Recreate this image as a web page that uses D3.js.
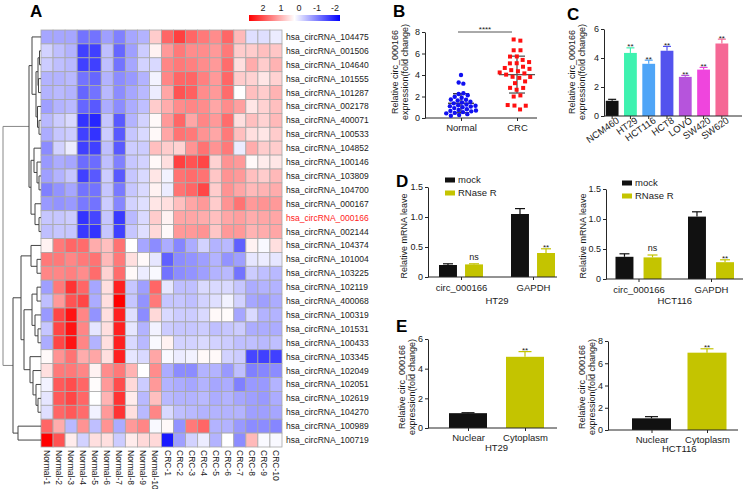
<!DOCTYPE html>
<html>
<head>
<meta charset="utf-8">
<script src="https://cdn.jsdelivr.net/npm/d3@7"></script>
<style>
  body { margin: 0; background: #fff; }
  svg text { font-family: Arial, "Liberation Sans", sans-serif; fill: #1a1a1a; }
</style>
</head>
<body>
<svg id="fig" width="753" height="489"></svg>
<script>
// ---------------- data ----------------
const rowNames = ["hsa_circRNA_104475","hsa_circRNA_001506","hsa_circRNA_104640","hsa_circRNA_101555",
  "hsa_circRNA_101287","hsa_circRNA_002178","hsa_circRNA_400071","hsa_circRNA_100533","hsa_circRNA_104852",
  "hsa_circRNA_100146","hsa_circRNA_103809","hsa_circRNA_104700","hsa_circRNA_000167","hsa_circRNA_000166",
  "hsa_circRNA_002144","hsa_circRNA_104374","hsa_circRNA_101004","hsa_circRNA_103225","hsa_circRNA_102119",
  "hsa_circRNA_400068","hsa_circRNA_100319","hsa_circRNA_101531","hsa_circRNA_100433","hsa_circRNA_103345",
  "hsa_circRNA_102049","hsa_circRNA_102051","hsa_circRNA_102619","hsa_circRNA_104270","hsa_circRNA_100989",
  "hsa_circRNA_100719"];
const highlightRow = "hsa_circRNA_000166";
const colNames = ["Normal-1","Normal-2","Normal-3","Normal-4","Normal-5","Normal-6","Normal-7","Normal-8",
  "Normal-9","Normal-10","CRC-1","CRC-2","CRC-3","CRC-4","CRC-5","CRC-6","CRC-7","CRC-8","CRC-9","CRC-10"];
const heatValues = [
  [-0.7,-0.7,-0.7,-1.1,-1.1,-0.75,-1.0,-0.7,-0.6,0.4, 1.2,1.5,1.2,1.05,0.9,1.2,0.55,-0.25,-0.25,-0.15],
  [-0.35,-0.5,-0.6,-1.5,-1.5,-0.5,-1.2,-0.75,-0.4,0.1, 0.8,1.05,0.9,0.9,0.8,1.05,0.4,0.4,0.5,0.45],
  [-0.4,-0.5,-0.55,-1.5,-1.5,-0.5,-1.1,-0.7,-0.35,-0.3, 0.95,1.05,1.0,0.9,0.8,1.15,0.25,0.65,0.4,0.6],
  [-0.6,-0.6,-0.55,-1.1,-1.2,-0.6,-0.9,-0.8,-0.6,-0.1, 0.95,1.2,1.2,1.0,0.8,1.2,0.4,0.35,0.2,0.35],
  [-0.6,-0.55,-0.6,-1.2,-1.1,-0.55,-0.9,-0.7,-0.55,-0.15, 0.7,1.35,1.25,0.9,0.8,1.15,0.0,0.5,0.4,0.6],
  [-0.75,-0.6,-0.55,-1.2,-1.3,-0.65,-0.9,-0.65,-0.5,0.4, 0.65,0.9,0.95,0.9,0.7,0.9,0.75,0.2,0.35,0.5],
  [-0.55,-0.4,-0.3,-1.6,-1.7,-0.45,-1.3,-0.6,-0.35,0.05, 0.8,1.2,0.7,0.95,0.8,1.15,0.25,0.5,0.35,0.55],
  [-0.65,-0.45,-0.4,-1.5,-1.6,-0.4,-1.3,-0.45,-0.3,0.05, 0.7,1.1,1.05,0.85,0.7,1.05,0.5,0.25,0.2,0.4],
  [-0.9,-0.35,-0.15,-1.5,-1.5,-0.5,-1.3,-0.4,-0.4,0.5, 0.4,0.35,0.85,1.1,0.85,1.05,-0.15,0.65,0.4,0.4],
  [-0.8,-0.65,-0.7,-1.15,-1.15,-0.5,-1.0,-0.45,-0.35,0.05, 0.25,1.5,1.35,1.45,0.35,0.85,0.8,0.05,0.15,0.2],
  [-0.75,-0.6,-0.45,-1.5,-1.3,-0.4,-1.3,-0.45,-0.3,0.2, -0.1,1.1,1.15,1.1,0.45,0.85,0.8,0.5,0.4,0.55],
  [-1.0,-0.85,-0.7,-1.1,-1.1,-0.45,-1.05,-0.45,-0.3,0.1, -0.15,1.1,1.2,1.45,0.4,0.85,0.7,0.55,0.6,0.65],
  [-0.8,-0.85,-0.8,-1.05,-1.1,-0.4,-0.95,-0.35,-0.25,0.2, 0.25,0.5,0.7,0.8,0.4,0.85,1.1,0.8,0.85,0.8],
  [-0.45,-0.45,-0.4,-1.6,-1.45,-0.45,-1.55,-0.55,-0.3,0.4, 0.1,0.7,0.7,0.65,0.5,0.7,0.75,0.65,0.7,0.7],
  [-0.5,-0.45,-0.45,-1.55,-1.6,-0.45,-1.5,-0.45,-0.25,0.3, 0.05,0.8,0.8,0.85,0.45,0.8,0.8,0.6,0.65,0.7],
  [0.1,1.05,1.2,1.15,0.65,0.5,1.1,0.0,-0.7,-0.9, -0.65,-0.95,-0.65,-0.35,-0.6,-0.55,-1.25,0.1,-0.05,0.25],
  [1.05,1.05,0.95,1.05,1.1,0.55,1.05,0.25,0.05,-0.2, -1.25,-0.9,-0.85,-0.75,-0.6,-0.85,-0.75,-0.2,-0.15,-0.2],
  [0.95,0.95,1.0,0.9,1.15,0.35,1.15,0.05,-0.15,-0.05, -1.1,-0.9,-0.85,-0.75,-0.6,-0.55,-1.1,-0.4,-0.5,-0.55],
  [-0.75,1.05,1.6,1.2,-0.7,0.25,1.75,-0.45,-0.75,1.2, -0.2,-0.5,-0.5,-0.3,-0.3,-0.3,-0.45,-0.65,-0.6,-0.6],
  [-0.5,0.8,1.35,1.45,-0.65,0.25,2.0,-0.45,-0.85,1.05, -0.45,-0.45,-0.5,-0.35,-0.25,-0.1,-0.35,-0.7,-0.75,-0.65],
  [-0.8,1.45,1.85,0.95,-0.85,0.25,1.75,-0.25,-0.9,0.3, -0.3,-0.4,-0.4,-0.3,0.05,0.03,-0.7,-0.3,-0.6,-0.6],
  [-0.45,1.45,1.85,0.95,-0.2,0.25,1.75,-0.2,-0.6,-0.1, -0.4,-0.45,-0.45,-0.4,-0.5,-0.45,-0.4,-0.65,-0.65,-0.65],
  [-0.65,1.45,1.85,0.95,-0.6,0.25,1.75,-0.3,-0.55,-0.05, 0.1,-0.35,-0.35,-0.3,-0.35,-0.4,-0.5,-0.5,-0.55,-0.5],
  [0.05,0.85,1.1,0.65,0.7,0.25,1.75,-0.2,-0.3,0.7, -0.05,-0.15,-0.1,0.05,0.05,-0.35,-0.4,-1.45,-1.5,-1.5],
  [0.25,1.05,1.05,0.95,0.1,0.9,1.05,0.6,0.0,0.9, -0.65,-0.9,-0.9,-0.6,-0.6,-0.8,-0.5,-1.0,-0.95,-0.9],
  [-0.1,1.3,1.4,1.2,0.02,0.8,1.4,0.3,-0.4,0.8, -0.6,-0.65,-0.7,-0.6,-0.7,-0.65,-1.0,-0.8,-0.8,-0.6],
  [-0.2,1.3,1.45,1.2,0.0,0.6,1.6,0.15,-0.55,0.5, -0.55,-0.6,-0.6,-0.55,-0.65,-0.6,-0.7,-0.75,-0.8,-0.65],
  [-0.25,1.2,1.3,1.15,-0.1,0.8,1.6,0.25,-0.55,0.95, -0.3,-0.5,-0.55,-0.6,-0.6,-0.6,-0.6,-0.75,-0.75,-0.7],
  [1.2,0.65,-0.55,0.85,-0.5,0.85,-0.65,0.8,0.95,-0.05, 0.05,-0.85,1.05,1.2,-0.6,-0.6,-0.8,-0.9,-0.9,-0.95],
  [2.0,1.35,0.15,-0.35,0.25,0.25,-0.4,0.15,0.3,0.3, -1.8,-0.75,-0.35,-0.15,-0.6,0.0,-0.9,0.55,-0.05,-0.05]
];
const legendTicks = [2, 1, 0, -1, -2];

// row clustering: r = leaf row index, h = merge height
const rowTree = {h:38, c:[
  {h:12, c:[
    {h:9, c:[{r:0}, {h:5, c:[
      {h:3, c:[{h:1.5, c:[{r:1},{r:2}]}, {h:2.5, c:[{r:3},{r:4}]}]},
      {h:3.5, c:[{r:5}, {h:2, c:[{r:6},{r:7}]}]}]}]},
    {h:10, c:[
      {h:7, c:[{r:8}, {h:4, c:[{r:9}, {h:2, c:[{r:10},{r:11}]}]}]},
      {h:6, c:[{r:12}, {h:2, c:[{r:13},{r:14}]}]}]}
  ]},
  {h:28, c:[
    {h:20, c:[
      {h:10, c:[{r:15}, {h:4, c:[{r:16},{r:17}]}]},
      {h:17, c:[
        {h:9, c:[{h:4, c:[{r:18},{r:19}]}, {h:6, c:[{r:20}, {h:3, c:[{r:21},{r:22}]}]}]},
        {h:11, c:[{r:23}, {h:8, c:[{r:24}, {h:5, c:[{r:25}, {h:3, c:[{r:26},{r:27}]}]}]}]}
      ]}
    ]},
    {h:23, c:[{r:28},{r:29}]}
  ]}
]};

// B
const groupsB = ["Normal", "CRC"];
const normalVals = [4.0,3.2,3.3,2.2,2.1,2.0,2.1,2.0,1.7,1.6,1.5,1.6,1.4,1.3,1.2,1.2,1.1,1.0,1.0,0.9,0.9,0.8,0.8,0.7,0.7,0.7,0.6,0.6,0.5,0.5,0.4,0.3];
const crcVals = [7.3,7.2,6.3,6.3,5.7,5.6,5.2,5.2,5.1,5.2,4.7,4.6,4.3,4.2,4.3,4.4,4.3,4.2,3.9,3.8,3.8,3.5,3.4,2.8,2.8,2.7,2.1,2.0,1.1,0.9,1.1,1.2];

// C
const cellLines = ["NCM460","HT29","HCT116","HCT8","LOVO","SW420","SW620"];
const cellVals = [1.05, 4.35, 3.6, 4.5, 2.7, 3.2, 5.0];
const cellErr = [0.1, 0.35, 0.25, 0.3, 0.1, 0.15, 0.3];
const cellSig = ["", "**", "**", "**", "**", "**", "**"];
const cellColors = ["#111111","#3ef2b0","#4fa5f7","#5353ee","#b654dc","#ef45dd","#f56895"];

// D
const rnaTargets = ["circ_000166", "GAPDH"];
const rnaSeries = ["mock", "RNase R"];
const rnaHT29 = [[0.20, 0.21], [1.05, 0.40]];
const rnaHT29Err = [[0.02, 0.01], [0.09, 0.07]];
const rnaHCT116 = [[0.37, 0.36], [1.04, 0.28]];
const rnaHCT116Err = [[0.05, 0.04], [0.08, 0.04]];
const rnaSig = [["", "ns"], ["", "**"]];

// E
const fractions = ["Nuclear", "Cytoplasm"];
const fracHT29 = [1.0, 4.8];
const fracHT29Err = [0.03, 0.35];
const fracHCT116 = [1.05, 6.95];
const fracHCT116Err = [0.15, 0.35];
const fracSig = ["", "**"];

const BLACK = "#111111", OLIVE = "#c4c400", AXIS = "#262626";

// ---------------- drawing ----------------
const svg = d3.select("#fig");

function panelLabel(t, x, y) {
  svg.append("text").attr("x", x).attr("y", y).attr("font-size", "17px")
    .attr("font-weight", "bold").style("fill", "#000").text(t);
}

function yTitle(x, yc, lines) {
  const t = svg.append("text").attr("transform", `translate(${x},${yc}) rotate(-90)`)
    .attr("text-anchor", "middle").attr("font-size", "9px");
  lines.forEach((l, i) => t.append("tspan").attr("x", 0).attr("dy", i ? "1.12em" : 0).text(l));
}

function styleAxis(g, fs) {
  g.selectAll("path, line").attr("stroke", AXIS).attr("stroke-width", 1);
  g.selectAll("text").attr("font-size", fs || "9px").style("fill", "#1a1a1a");
}

function leftAxis(x, y, ticks, fmt) {
  const g = svg.append("g").attr("transform", `translate(${x},0)`)
    .call(d3.axisLeft(y).tickValues(ticks).tickFormat(fmt || d3.format("d")).tickSize(3).tickSizeOuter(0).tickPadding(2));
  styleAxis(g);
  return g;
}

function bottomLine(x0, x1, y) {
  svg.append("line").attr("x1", x0).attr("x2", x1).attr("y1", y).attr("y2", y)
    .attr("stroke", AXIS).attr("stroke-width", 1);
}

// upper error whisker + cap + significance
function whisker(cx, yTop, yVal, capW, color, sig) {
  svg.append("line").attr("x1", cx).attr("x2", cx).attr("y1", yVal).attr("y2", yTop)
    .attr("stroke", color).attr("stroke-width", 1.2);
  svg.append("line").attr("x1", cx - capW / 2).attr("x2", cx + capW / 2).attr("y1", yTop).attr("y2", yTop)
    .attr("stroke", color).attr("stroke-width", 1.2);
  if (sig) {
    svg.append("text").attr("x", cx).attr("y", sig === "ns" ? yTop - 4 : yTop + 1.5)
      .attr("text-anchor", "middle").attr("font-size", sig === "ns" ? "9px" : "8px").text(sig);
  }
}

// ===== A: heatmap =====
panelLabel("A", 30, 17);
const hx = d3.scaleBand().domain(d3.range(colNames.length)).range([41, 282]);
const hy = d3.scaleBand().domain(d3.range(rowNames.length)).range([30, 447]);
const heatColor = d3.scaleLinear().domain([-2, 0, 2]).range(["#0000ff", "#ffffff", "#ff0000"]).clamp(true);

const cells = [];
heatValues.forEach((row, i) => row.forEach((v, j) => cells.push({i, j, v})));
svg.append("g").selectAll("rect").data(cells).join("rect")
  .attr("x", d => hx(d.j)).attr("y", d => hy(d.i))
  .attr("width", hx.bandwidth()).attr("height", hy.bandwidth())
  .attr("fill", d => heatColor(d.v))
  .attr("stroke", "#a9a9a9").attr("stroke-width", 0.8);

svg.append("g").selectAll("text").data(rowNames).join("text")
  .attr("x", 286).attr("y", (d, i) => hy(i) + hy.bandwidth() / 2).attr("dy", "0.35em")
  .attr("font-size", "8.5px")
  .style("fill", d => d === highlightRow ? "#ff1a1a" : "#1a1a1a")
  .text(d => d);

svg.append("g").selectAll("text").data(colNames).join("text")
  .attr("transform", (d, j) => `translate(${hx(j) + hx.bandwidth() / 2},450) rotate(90)`)
  .attr("dy", "0.35em").attr("font-size", "8.5px").text(d => d);

// dendrogram
const dendX = d3.scaleLinear().domain([0, 38]).range([41, 3]);
const root = d3.hierarchy(rowTree, d => d.c);
root.eachAfter(n => {
  if (!n.children) { n.py = hy(n.data.r) + hy.bandwidth() / 2; n.px = dendX(0); }
  else {
    n.py = (n.children[0].py + n.children[n.children.length - 1].py) / 2;
    n.px = dendX(n.data.h);
  }
});
const dend = svg.append("g").attr("stroke", "#444").attr("stroke-width", 1).attr("fill", "none");
root.descendants().filter(n => n.children).forEach(n => {
  const c0 = n.children[0], c1 = n.children[n.children.length - 1];
  const col = n.depth === 0 ? "#888" : "#444";
  dend.append("path").attr("stroke", col)
    .attr("d", `M${c0.px},${c0.py}H${n.px}V${c1.py}H${c1.px}`);
});

// colour key
const defs = svg.append("defs");
const grad = defs.append("linearGradient").attr("id", "key");
[["0%", 2], ["50%", 0], ["100%", -2]].forEach(([o, v]) =>
  grad.append("stop").attr("offset", o).attr("stop-color", heatColor(v)));
svg.append("rect").attr("x", 249).attr("y", 15).attr("width", 91).attr("height", 6).attr("fill", "url(#key)");
const keyX = d3.scaleLinear().domain([2, -2]).range([263, 335]);
svg.append("g").selectAll("text").data(legendTicks).join("text")
  .attr("x", d => keyX(d)).attr("y", 11).attr("text-anchor", "middle").attr("font-size", "9px")
  .text(d => d);

// ===== B: scatter =====
panelLabel("B", 393, 17);
const bY = d3.scaleLinear().domain([0, 8]).range([118, 32]);
const bX = d3.scalePoint().domain(groupsB).range([461, 517]);
leftAxis(425, bY, [0, 2, 4, 6, 8]);
const gBx = svg.append("g").attr("transform", "translate(0,118)")
  .call(d3.axisBottom(bX).tickSize(3).tickSizeOuter(0).tickPadding(3));
gBx.select(".domain").remove();
styleAxis(gBx, "9.5px");
bottomLine(425, 537, 118);
yTitle(398, 72, ["Relative circ_000166", "expression(fold change)"]);

const nodes = normalVals.map(v => ({g: "Normal", v})).concat(crcVals.map(v => ({g: "CRC", v})));
nodes.forEach(n => { n.x = bX(n.g); n.y = bY(n.v); });
const sim = d3.forceSimulation(nodes)
  .force("x", d3.forceX(d => bX(d.g)).strength(0.08))
  .force("y", d3.forceY(d => bY(d.v)).strength(1))
  .force("c", d3.forceCollide(d => d.g === "CRC" ? 3.4 : 2.4))
  .stop();
for (let i = 0; i < 300; i++) sim.tick();

[["Normal", normalVals, "#333", 26], ["CRC", crcVals, "#555", 36]].forEach(([g, vals, col, mw]) => {
  const m = d3.mean(vals), sd = d3.deviation(vals), cx = bX(g);
  const e = svg.append("g").attr("stroke", col).attr("stroke-width", 1.3);
  e.append("line").attr("x1", cx).attr("x2", cx).attr("y1", bY(m - sd)).attr("y2", bY(m + sd));
  e.append("line").attr("x1", cx - 8).attr("x2", cx + 8).attr("y1", bY(m + sd)).attr("y2", bY(m + sd));
  e.append("line").attr("x1", cx - 8).attr("x2", cx + 8).attr("y1", bY(m - sd)).attr("y2", bY(m - sd));
  e.append("line").attr("x1", cx - mw / 2).attr("x2", cx + mw / 2).attr("y1", bY(m)).attr("y2", bY(m));
});
svg.append("g").selectAll("circle").data(nodes.filter(n => n.g === "Normal")).join("circle")
  .attr("cx", d => d.x).attr("cy", d => d.y).attr("r", 2.2).attr("fill", "#1010f0");
svg.append("g").selectAll("rect").data(nodes.filter(n => n.g === "CRC")).join("rect")
  .attr("x", d => d.x - 2).attr("y", d => d.y - 2).attr("width", 4).attr("height", 4).attr("fill", "#ff1010");
svg.append("line").attr("x1", bX("Normal") - 3).attr("x2", bX("CRC") - 5).attr("y1", 32).attr("y2", 32)
  .attr("stroke", "#555").attr("stroke-width", 1);
svg.append("text").attr("x", (bX("Normal") + bX("CRC")) / 2 - 4).attr("y", 32).attr("text-anchor", "middle")
  .attr("font-size", "8px").text("****");

// ===== C: cell lines =====
panelLabel("C", 567, 20);
const cX = d3.scaleBand().domain(cellLines).range([603, 731]).paddingInner(0.3).paddingOuter(0.15);
const cY = d3.scaleLinear().domain([0, 6]).range([116, 29]);
leftAxis(604, cY, [0, 2, 4, 6]);
yTitle(575, 72, ["Relative circ_000166", "expression(fold change)"]);
svg.append("g").selectAll("rect").data(cellLines).join("rect")
  .attr("x", d => cX(d)).attr("width", cX.bandwidth())
  .attr("y", (d, i) => cY(cellVals[i])).attr("height", (d, i) => cY(0) - cY(cellVals[i]))
  .attr("fill", (d, i) => cellColors[i]);
cellLines.forEach((d, i) => whisker(cX(d) + cX.bandwidth() / 2, cY(cellVals[i] + cellErr[i]), cY(cellVals[i]),
  8, cellColors[i], cellSig[i]));
const gCx = svg.append("g").attr("transform", "translate(0,116)")
  .call(d3.axisBottom(cX).tickSize(3).tickSizeOuter(0));
gCx.select(".domain").remove();
styleAxis(gCx, "9.5px");
gCx.selectAll(".tick text").attr("text-anchor", "end").attr("x", 3).attr("y", 6).attr("dy", "0.35em")
  .attr("transform", "rotate(-35)");
bottomLine(604, 742, 116);

// ===== D: RNase R =====
panelLabel("D", 396, 187);
function rnasePanel(axisX, axisEnd, yRange, centers, half, pad, vals, errs, cell, labY, titleX, legX, legY) {
  const y = d3.scaleLinear().domain([0, 1.5]).range(yRange);
  const x0 = d3.scalePoint().domain(rnaTargets).range(centers);
  const x1 = d3.scaleBand().domain(rnaSeries).range([-half, half]).paddingInner(pad);
  const cols = [BLACK, OLIVE];
  leftAxis(axisX, y, [0, 0.5, 1.0, 1.5], d => d === 0 ? "0" : d3.format(".1f")(d));
  yTitle(titleX, 236, ["Relative mRNA leave"]);
  rnaTargets.forEach((t, gi) => rnaSeries.forEach((s, si) => {
    const v = vals[gi][si], bx = x0(t) + x1(s);
    svg.append("rect").attr("x", bx).attr("width", x1.bandwidth())
      .attr("y", y(v)).attr("height", y(0) - y(v)).attr("fill", cols[si]);
    whisker(bx + x1.bandwidth() / 2, y(v + errs[gi][si]), y(v), 10, cols[si], rnaSig[gi][si]);
  }));
  const gx = svg.append("g").attr("transform", `translate(0,${y(0)})`)
    .call(d3.axisBottom(x0).tickSize(3).tickSizeOuter(0).tickPadding(4));
  gx.select(".domain").remove();
  styleAxis(gx, "9.5px");
  bottomLine(axisX, axisEnd, y(0));
  svg.append("text").attr("x", d3.mean(centers)).attr("y", labY).attr("text-anchor", "middle")
    .attr("font-size", "9.5px").text(cell);
  rnaSeries.forEach((s, si) => {
    svg.append("rect").attr("x", legX).attr("y", legY + si * 13 - 2.5).attr("width", 10).attr("height", 5)
      .attr("fill", cols[si]);
    svg.append("text").attr("x", legX + 13).attr("y", legY + si * 13).attr("dy", "0.35em")
      .attr("font-size", "9.5px").text(s);
  });
}
rnasePanel(428, 557, [277, 187], [461, 533], 22, 0.31, rnaHT29, rnaHT29Err, "HT29", 304, 407, 445, 180);
rnasePanel(606, 743, [279, 189], [638.5, 711], 23, 0.36, rnaHCT116, rnaHCT116Err, "HCT116", 304, 586, 622, 183);

// ===== E: fractionation =====
panelLabel("E", 396, 332);
function fracPanel(axisX, axisEnd, yMax, yRange, yTicks, centers, bw, vals, errs, cell, labY, titleX) {
  const y = d3.scaleLinear().domain([0, yMax]).range(yRange);
  const x = d3.scalePoint().domain(fractions).range(centers);
  const cols = [BLACK, OLIVE];
  leftAxis(axisX, y, yTicks);
  yTitle(titleX, 387, ["Relative circ_000166", "expression(fold change)"]);
  fractions.forEach((f, i) => {
    svg.append("rect").attr("x", x(f) - bw / 2).attr("width", bw)
      .attr("y", y(vals[i])).attr("height", y(0) - y(vals[i])).attr("fill", cols[i]);
    whisker(x(f), y(vals[i] + errs[i]), y(vals[i]), 13, cols[i], fracSig[i]);
  });
  const gx = svg.append("g").attr("transform", `translate(0,${y(0)})`)
    .call(d3.axisBottom(x).tickSize(3).tickSizeOuter(0).tickPadding(3));
  gx.select(".domain").remove();
  styleAxis(gx, "9.5px");
  bottomLine(axisX, axisEnd, y(0));
  svg.append("text").attr("x", d3.mean(centers)).attr("y", labY).attr("text-anchor", "middle")
    .attr("font-size", "9.5px").text(cell);
}
fracPanel(428, 557, 6, [428, 339], [0, 2, 4, 6], [468, 525], 38, fracHT29, fracHT29Err, "HT29", 451, 405);
fracPanel(608, 738, 8, [430, 341], [0, 2, 4, 6, 8], [651.5, 707], 39, fracHCT116, fracHCT116Err, "HCT116", 452, 585);
</script>
</body>
</html>
